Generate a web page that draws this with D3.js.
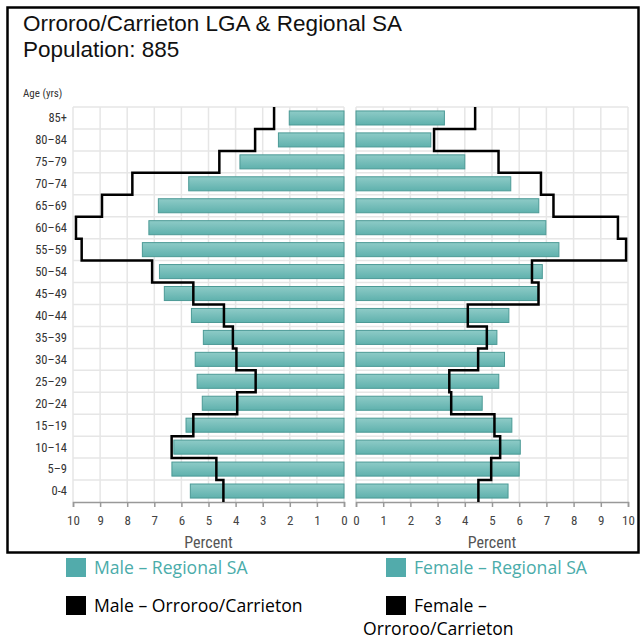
<!DOCTYPE html>
<html>
<head>
<meta charset="utf-8">
<script src="https://cdn.jsdelivr.net/npm/d3@7"></script>
<style>
  body { margin: 0; background: #fff; }
  svg { display: block; }
  .narrow { font-family: "Liberation Sans Narrow", "Arial Narrow", "Roboto Condensed", "Liberation Sans", sans-serif; }
  .legend { font-family: "Open Sans", "Noto Sans", sans-serif; }
</style>
</head>
<body>
<div id="chart"></div>
<script>
// age groups, bottom to top
const ageGroups = ['0-4', '5–9', '10–14', '15–19', '20–24', '25–29', '30–34', '35–39', '40–44',
    '45–49', '50–54', '55–59', '60–64', '65–69', '70–74', '75–79', '80–84', '85+'];

// percent of population, same order as ageGroups
const maleRegional = [5.67, 6.35, 6.28, 5.83, 5.23, 5.42, 5.49, 5.19, 5.63,
    6.63, 6.81, 7.44, 7.2, 6.85, 5.73, 3.84, 2.42, 2.02];
const femaleRegional = [5.59, 6.0, 6.04, 5.73, 4.64, 5.25, 5.46, 5.18, 5.62,
    6.69, 6.85, 7.46, 6.98, 6.72, 5.69, 4.0, 2.75, 3.25];
const maleLGA = [4.45, 4.71, 6.36, 5.56, 3.94, 3.26, 3.97, 4.1, 4.43,
    5.56, 7.08, 9.68, 9.89, 8.93, 7.81, 4.6, 3.28, 2.58];
const femaleLGA = [4.5, 4.97, 5.3, 5.09, 3.5, 3.43, 4.49, 4.81, 4.11,
    6.71, 6.47, 9.93, 9.63, 7.26, 6.8, 5.24, 2.87, 4.38];

const xTicks = [0, 1, 2, 3, 4, 5, 6, 7, 8, 9, 10];
const legendItems = [
    { label: 'Male – Regional SA', kind: 'bar', col: 0, row: 0 },
    { label: 'Female – Regional SA', kind: 'bar', col: 1, row: 0 },
    { label: 'Male – Orroroo/Carrieton', kind: 'line', col: 0, row: 1 },
    { label: ['Female –', 'Orroroo/Carrieton'], kind: 'line', col: 1, row: 1 }
];

const width = 643;
const height = 639;
const plot = { top: 107, bottom: 502 };
const teal = '#52abab';

const svg = d3.select('#chart')
    .append('svg')
    .attr('width', width)
    .attr('height', height);

const defs = svg.append('defs');
const grad = defs.append('linearGradient')
    .attr('id', 'barGrad')
    .attr('x1', 0).attr('y1', 0).attr('x2', 0).attr('y2', 1);
grad.append('stop').attr('offset', '0%').attr('stop-color', '#8ecbc7');
grad.append('stop').attr('offset', '100%').attr('stop-color', '#5fb1ad');

// frame
svg.append('rect')
    .attr('x', 7.5).attr('y', 7.5)
    .attr('width', 631).attr('height', 545)
    .attr('fill', 'none')
    .attr('stroke', '#000')
    .attr('stroke-width', 2.5);

// titles
svg.append('text')
    .attr('x', 23).attr('y', 31)
    .style('font-family', '"Liberation Sans", Arial, sans-serif')
    .style('font-size', '22.5px')
    .attr('fill', '#111')
    .text('Orroroo/Carrieton LGA & Regional SA');
svg.append('text')
    .attr('x', 23).attr('y', 57)
    .style('font-family', '"Liberation Sans", Arial, sans-serif')
    .style('font-size', '22.5px')
    .attr('fill', '#111')
    .text('Population: 885');

svg.append('text')
    .attr('class', 'narrow')
    .attr('x', 23).attr('y', 97)
    .style('font-size', '11px')
    .attr('fill', '#333')
    .text('Age (yrs)');

const order = ageGroups.slice().reverse();

const rowY = d3.scaleBand()
    .domain(order)
    .range([plot.top, plot.bottom])
    .padding(0);

const barY = d3.scaleBand()
    .domain(order)
    .range([plot.top, plot.bottom])
    .paddingInner(0.36)
    .paddingOuter(0.18);

const xLeft = d3.scaleLinear().domain([0, 10]).range([344, 73]);
const xRight = d3.scaleLinear().domain([0, 10]).range([356, 628]);

function drawPanel(x, barVals, lineVals) {
    const g = svg.append('g');

    // gridlines
    const grid = g.append('g').attr('stroke', '#e6e6e6').attr('stroke-width', 1.5);
    grid.selectAll('line.v')
        .data(xTicks)
        .join('line')
        .attr('class', 'v')
        .attr('x1', (d) => x(d)).attr('x2', (d) => x(d))
        .attr('y1', plot.top).attr('y2', plot.bottom);
    const bounds = order.map((a) => rowY(a));
    grid.selectAll('line.h')
        .data(bounds)
        .join('line')
        .attr('class', 'h')
        .attr('x1', x.range()[0]).attr('x2', x.range()[1])
        .attr('y1', (d) => d).attr('y2', (d) => d);

    // bars
    g.append('g')
        .selectAll('rect')
        .data(ageGroups.map((a, i) => ({ age: a, v: barVals[i] })))
        .join('rect')
        .attr('x', (d) => Math.min(x(0), x(d.v)))
        .attr('width', (d) => Math.abs(x(d.v) - x(0)))
        .attr('y', (d) => barY(d.age))
        .attr('height', barY.bandwidth())
        .attr('fill', 'url(#barGrad)')
        .attr('stroke', '#4c9a96')
        .attr('stroke-width', 1);

    // axis
    const axis = g.append('g')
        .attr('class', 'narrow')
        .attr('transform', `translate(0, ${plot.bottom})`)
        .call(d3.axisBottom(x)
            .tickValues(xTicks)
            .tickSize(5)
            .tickPadding(9)
            .tickFormat(d3.format('d')));
    axis.select('.domain').attr('stroke', '#999').attr('stroke-width', 1.5);
    axis.selectAll('.tick line').attr('stroke', '#999').attr('stroke-width', 1.5);
    axis.selectAll('.tick text')
        .attr('fill', '#444')
        .style('font-size', '13px');

    g.append('text')
        .attr('class', 'narrow')
        .attr('x', (x.range()[0] + x.range()[1]) / 2)
        .attr('y', 548)
        .attr('text-anchor', 'middle')
        .style('font-size', '16px')
        .attr('fill', '#555')
        .text('Percent');

    // step line for LGA
    const pts = [];
    order.forEach((a) => {
        const v = lineVals[ageGroups.indexOf(a)];
        pts.push([x(v), rowY(a)]);
        pts.push([x(v), rowY(a) + rowY.bandwidth()]);
    });
    g.append('path')
        .datum(pts)
        .attr('fill', 'none')
        .attr('stroke', '#000')
        .attr('stroke-width', 2.5)
        .attr('d', d3.line());
}

drawPanel(xLeft, maleRegional, maleLGA);
drawPanel(xRight, femaleRegional, femaleLGA);

// age labels
svg.append('g')
    .attr('class', 'narrow')
    .selectAll('text')
    .data(ageGroups)
    .join('text')
    .attr('x', 67)
    .attr('y', (d) => rowY(d) + rowY.bandwidth() / 2)
    .attr('dy', '0.35em')
    .attr('text-anchor', 'end')
    .style('font-size', '12.5px')
    .attr('fill', '#333')
    .text((d) => d);

// legend
const legend = svg.append('g').attr('class', 'legend');
const colX = [66, 386];
const rowTop = [558, 596];
legendItems.forEach((item) => {
    const lx = colX[item.col];
    const ly = rowTop[item.row];
    legend.append('rect')
        .attr('x', lx).attr('y', ly)
        .attr('width', 20).attr('height', 19)
        .attr('fill', item.kind === 'bar' ? teal : '#000');
    const t = legend.append('text')
        .style('font-size', '17.6px')
        .attr('fill', item.kind === 'bar' ? '#4aacaa' : '#000');
    if (Array.isArray(item.label)) {
        t.append('tspan').attr('x', lx + 28).attr('y', ly + 16).text(item.label[0]);
        t.append('tspan').attr('x', 363).attr('y', ly + 39).text(item.label[1]);
    } else {
        t.attr('x', lx + 28).attr('y', ly + 16).text(item.label);
    }
});
</script>
</body>
</html>
